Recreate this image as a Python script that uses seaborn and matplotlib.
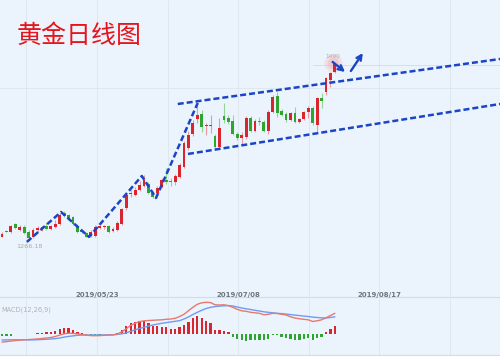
import numpy as np
import pandas as pd
import matplotlib
matplotlib.use("Agg")
import matplotlib.pyplot as plt
import matplotlib.transforms as mtrans
import seaborn as sns

sns.set_theme(style="white")
plt.rcParams["font.family"] = ["DejaVu Sans"]

# ---------------- data ----------------
title = "黄金日线图"
date_labels = ["2019/05/23", "2019/07/08", "2019/08/17"]
low_label = "1266.18"
high_label = "1490"
macd_label = "MACD(12,26,9)"

opens = [1268.2, 1275.8, 1274.5, 1284.7, 1277.1, 1280.9, 1274.5, 1268.2, 1277.1, 1277.1,
         1282.2, 1278.4, 1280.9, 1284.7, 1298.8, 1296.2, 1293.7, 1282.2, 1277.1, 1273.3,
         1269.4, 1269.4, 1279.6, 1280.9, 1282.2, 1275.8, 1277.1, 1284.7, 1305.1, 1323.0,
         1321.7, 1328.1, 1333.2, 1335.7, 1324.3, 1324.3, 1331.9, 1340.8, 1339.6, 1338.3,
         1344.7, 1357.4, 1381.6, 1399.5, 1418.6, 1425.0, 1409.7, 1409.7, 1396.9, 1382.9,
         1422.4, 1419.9, 1416.0, 1399.5, 1394.4, 1395.6, 1419.9, 1403.3, 1416.0, 1414.8,
         1403.3, 1427.5, 1447.9, 1428.8, 1425.0, 1417.3, 1426.2, 1414.8, 1418.6, 1427.5,
         1432.6, 1410.9, 1445.4, 1453.0, 1468.3, 1478.5]
highs = [1275.0, 1277.0, 1283.5, 1286.0, 1283.5, 1283.5, 1277.1, 1279.6, 1282.2, 1282.2,
         1286.0, 1283.5, 1289.8, 1298.8, 1301.3, 1297.5, 1294.9, 1284.7, 1278.4, 1274.5,
         1277.1, 1283.5, 1283.5, 1283.5, 1283.5, 1280.9, 1288.6, 1305.1, 1322.9, 1328.1,
         1331.9, 1339.6, 1347.2, 1338.3, 1326.8, 1333.2, 1343.4, 1356.1, 1343.4, 1348.5,
         1362.5, 1390.6, 1403.3, 1417.3, 1437.7, 1430.1, 1413.5, 1423.7, 1399.5, 1419.9,
         1439.0, 1423.7, 1423.7, 1402.0, 1402.0, 1422.4, 1422.4, 1418.6, 1421.2, 1417.3,
         1430.1, 1449.2, 1453.0, 1431.4, 1427.5, 1427.5, 1433.9, 1419.9, 1428.8, 1435.2,
         1435.2, 1446.7, 1451.8, 1472.2, 1478.5, 1490.0]
lows = [1267.5, 1273.9, 1273.3, 1278.4, 1275.8, 1272.0, 1266.18, 1266.9, 1274.5, 1275.8,
        1277.1, 1277.1, 1279.6, 1283.5, 1293.7, 1291.1, 1283.5, 1273.3, 1273.3, 1267.5,
        1268.2, 1268.2, 1278.4, 1278.4, 1273.3, 1274.5, 1275.8, 1283.5, 1302.6, 1319.2,
        1320.4, 1326.8, 1331.9, 1323.0, 1317.9, 1321.7, 1330.6, 1335.7, 1333.2, 1334.5,
        1343.4, 1356.1, 1379.1, 1396.9, 1413.5, 1402.0, 1398.2, 1400.8, 1381.6, 1380.4,
        1413.5, 1412.2, 1398.2, 1391.8, 1385.5, 1393.1, 1402.0, 1402.0, 1410.9, 1402.0,
        1399.5, 1426.2, 1421.2, 1422.4, 1414.8, 1416.0, 1413.5, 1413.5, 1417.3, 1419.9,
        1411.0, 1400.8, 1432.6, 1449.2, 1459.4, 1477.3]
closes = [1272.0, 1274.5, 1282.2, 1279.6, 1280.9, 1273.3, 1266.9, 1277.1, 1279.6, 1280.9,
          1278.4, 1282.2, 1284.7, 1296.2, 1294.9, 1292.4, 1284.7, 1274.5, 1274.5, 1268.2,
          1274.5, 1280.9, 1282.2, 1282.0, 1274.5, 1278.4, 1286.0, 1303.9, 1321.7, 1324.3,
          1328.1, 1334.5, 1340.8, 1324.3, 1319.2, 1330.6, 1340.8, 1338.3, 1337.7, 1346.0,
          1360.0, 1388.0, 1398.2, 1413.5, 1423.7, 1408.4, 1410.9, 1410.9, 1382.9, 1407.1,
          1417.3, 1414.8, 1399.5, 1394.4, 1398.2, 1419.9, 1403.3, 1416.0, 1414.2, 1403.3,
          1427.5, 1446.7, 1426.2, 1423.7, 1417.3, 1426.2, 1414.8, 1418.6, 1427.5, 1432.6,
          1413.5, 1445.4, 1441.6, 1470.9, 1477.3, 1488.7]

macd_hist = [-2.0, -2.0, -1.7, 0.7, 0.7, 0.7, 0.7, 0.7, 1.3, 1.7,
             2.3, 2.7, 3.3, 5.3, 6.0, 6.0, 4.7, 2.3, 1.3, -0.7,
             -1.0, -1.0, -1.0, 0.7, 0.7, -1.0, 1.7, 4.3, 8.7, 11.0,
             12.0, 13.3, 13.7, 11.0, 8.7, 8.3, 7.7, 7.0, 5.3, 5.3,
             7.0, 9.3, 12.7, 16.0, 18.7, 16.0, 13.7, 11.0, 4.3, 4.3,
             3.7, 2.0, -2.3, -5.0, -5.7, -6.3, -5.7, -5.7, -5.7, -5.7,
             -4.7, -0.7, -0.7, -2.3, -3.3, -4.7, -5.7, -5.7, -5.0, -4.0,
             -5.7, -3.3, -2.3, 2.0, 5.0, 8.3]
dif = [-7.8, -7.3, -6.8, -6.3, -5.8, -5.5, -5.3, -5.0, -4.6, -4.2,
       -3.7, -3.2, -2.2, -0.8, 0.5, 1.0, 0.9, 0.4, -0.2, -0.8,
       -1.3, -1.4, -1.3, -1.0, -0.8, -0.7, 0.3, 2.5, 5.5, 9.0,
       11.0, 12.7, 13.5, 13.8, 14.0, 14.3, 14.5, 15.0, 15.3, 16.0,
       17.7, 20.0, 23.5, 27.0, 30.0, 31.5, 32.0, 31.7, 29.5, 29.3,
       29.5, 28.7, 27.0, 25.0, 23.5, 23.0, 22.0, 21.5, 21.0, 19.5,
       20.0, 21.0, 20.8, 20.0, 19.3, 17.5, 16.3, 15.5, 15.0, 14.5,
       12.8, 13.5, 14.5, 16.5, 18.8, 21.0]
dea = [-5.7, -5.6, -5.5, -5.5, -5.5, -5.5, -5.6, -5.6, -5.4, -5.2,
       -5.0, -4.7, -4.3, -3.7, -2.8, -2.1, -1.6, -1.0, -0.8, -0.7,
       -0.7, -0.7, -0.7, -0.6, -0.5, -0.4, -0.1, 0.5, 1.5, 3.0,
       4.5, 5.8, 7.0, 8.2, 9.3, 10.2, 11.0, 11.7, 12.3, 13.0,
       13.6, 15.3, 17.3, 19.8, 22.0, 24.0, 25.8, 27.0, 27.7, 28.2,
       28.5, 28.7, 28.3, 27.3, 26.3, 25.5, 24.8, 24.0, 23.3, 22.5,
       22.0, 21.5, 21.0, 20.7, 20.3, 19.7, 19.2, 18.7, 18.2, 17.8,
       17.2, 16.8, 16.5, 16.3, 16.8, 17.5]

# trend-line annotations (candle index, price)
zigzag_idx = [5.6, 13.3, 19.6, 31.5, 34.7, 44.1]
zigzag_price = [1261.8, 1300.0, 1268.2, 1345.9, 1317.9, 1439.0]
upper_idx = [39.6, 112.2]
upper_price = [1437.7, 1495.1]
lower_idx = [41.9, 112.2]
lower_price = [1374.0, 1437.7]
arrow_down = [(74.5, 1491.3), (77.3, 1478.5)]
arrow_up = [(78.6, 1479.8), (81.3, 1502.7)]

# ---------------- styling ----------------
BG = "#EBF4FD"
GRID = "#DCE5EE"
UP = "#D9252D"
DOWN = "#2FA52F"
UP_WICK = "#E99CA0"
DOWN_WICK = "#95D495"
BLUE = "#1B44C6"

df = pd.DataFrame({"open": opens, "high": highs, "low": lows, "close": closes,
                   "hist": macd_hist, "dif": dif, "dea": dea})
df["idx"] = np.arange(len(df))
XL = (-0.45, 112.2)
grid_x = [5.5 + 15.9 * k for k in range(7)]
tick_x = [21.4 + 31.8 * k for k in range(3)]

fig = plt.figure(figsize=(5, 3.56), dpi=100, facecolor=BG)
ax = fig.add_axes([0, 59 / 356, 1, 297 / 356])
ax.set_facecolor(BG)
ax.set_xlim(*XL)
ax.set_ylim(1191.6, 1570.3)
for gx in grid_x:
    ax.axvline(gx, color=GRID, lw=0.6, zorder=0)
ax.axhline(1458.1, color=GRID, lw=0.6, zorder=0)
ax.plot([70, XL[1]], [1487.4, 1487.4], color="#D3DCE5", lw=0.6, zorder=0)

for i, r in df.iterrows():
    isup = r["close"] >= r["open"]
    ax.vlines(r["idx"], r["low"], r["high"], color=UP_WICK if isup else DOWN_WICK,
              lw=0.8, zorder=2)
    h = max(abs(r["close"] - r["open"]), 1.0)
    ax.bar(r["idx"], h, bottom=min(r["open"], r["close"]), width=0.64,
           color=UP if isup else DOWN, lw=0, zorder=3)

# glow on the high
ax.scatter([74.6], [1490.0], s=170, color="#F6B4B6", alpha=0.3, lw=0, zorder=1)
ax.scatter([74.6], [1490.0], s=70, color="#F29CA0", alpha=0.3, lw=0, zorder=1)

dash = dict(color=BLUE, lw=1.8, dashes=(2.4, 1.2), zorder=4)
ax.plot(zigzag_idx, zigzag_price, **dash)
ax.plot(upper_idx, upper_price, **dash)
ax.plot(lower_idx, lower_price, **dash)
for a in (arrow_down, arrow_up):
    ax.annotate("", xy=a[1], xytext=a[0],
                arrowprops=dict(arrowstyle="->", color=BLUE, lw=1.7,
                                mutation_scale=9, shrinkA=0, shrinkB=0), zorder=5)

ax.text(74.6, 1498.3, high_label, fontsize=4.2, color="#A9A9A9", ha="center", va="center", zorder=6)
ax.text(6.2, 1256.0, low_label, fontsize=4.6, color="#A9A9A9", ha="center", va="center", zorder=6)

for s in ax.spines.values():
    s.set_visible(False)
ax.spines["bottom"].set_visible(True)
ax.spines["bottom"].set_color("#D3DBE3")
ax.spines["bottom"].set_linewidth(0.8)
ax.set_xticks([])
ax.set_yticks([])

tr = mtrans.blended_transform_factory(ax.transData, fig.transFigure)
for tx, lab in zip(tick_x, date_labels):
    ax.text(tx, 1 - 295.5 / 356, lab, transform=tr, fontsize=5, color="#6E767F",
            ha="center", va="center", fontweight="bold", zorder=6)

fig.text(17 / 500, 1 - 36 / 356, title, fontsize=18, color="#E8141C",
         family=["Noto Sans CJK SC", "DejaVu Sans"], fontweight=200,
         ha="left", va="center")

# ---------------- MACD panel ----------------
m = fig.add_axes([0, 1 / 356, 1, 56 / 356])
m.set_facecolor(BG)
m.set_xlim(*XL)
m.set_ylim(-20.7, 35.3)
for gx in grid_x:
    m.axvline(gx, color=GRID, lw=0.6, zorder=0)
m.bar(df["idx"], df["hist"], width=0.52,
      color=[UP if v >= 0 else DOWN for v in df["hist"]], lw=0, zorder=2)
sns.lineplot(data=df, x="idx", y="dea", color="#6E9CF2", lw=1.0, ax=m, zorder=3)
sns.lineplot(data=df, x="idx", y="dif", color="#E8786F", lw=1.0, ax=m, zorder=3)
for s in m.spines.values():
    s.set_visible(False)
m.spines["bottom"].set_visible(True)
m.spines["bottom"].set_color("#D3DBE3")
m.spines["bottom"].set_linewidth(0.8)
m.set_xticks([])
m.set_yticks([])
m.set_xlabel("")
m.set_ylabel("")
fig.text(1 / 500, 1 - 310 / 356, macd_label, fontsize=4.8, color="#B2B2B2",
         ha="left", va="center")

fig.savefig("out.png", dpi=100, facecolor=BG)
